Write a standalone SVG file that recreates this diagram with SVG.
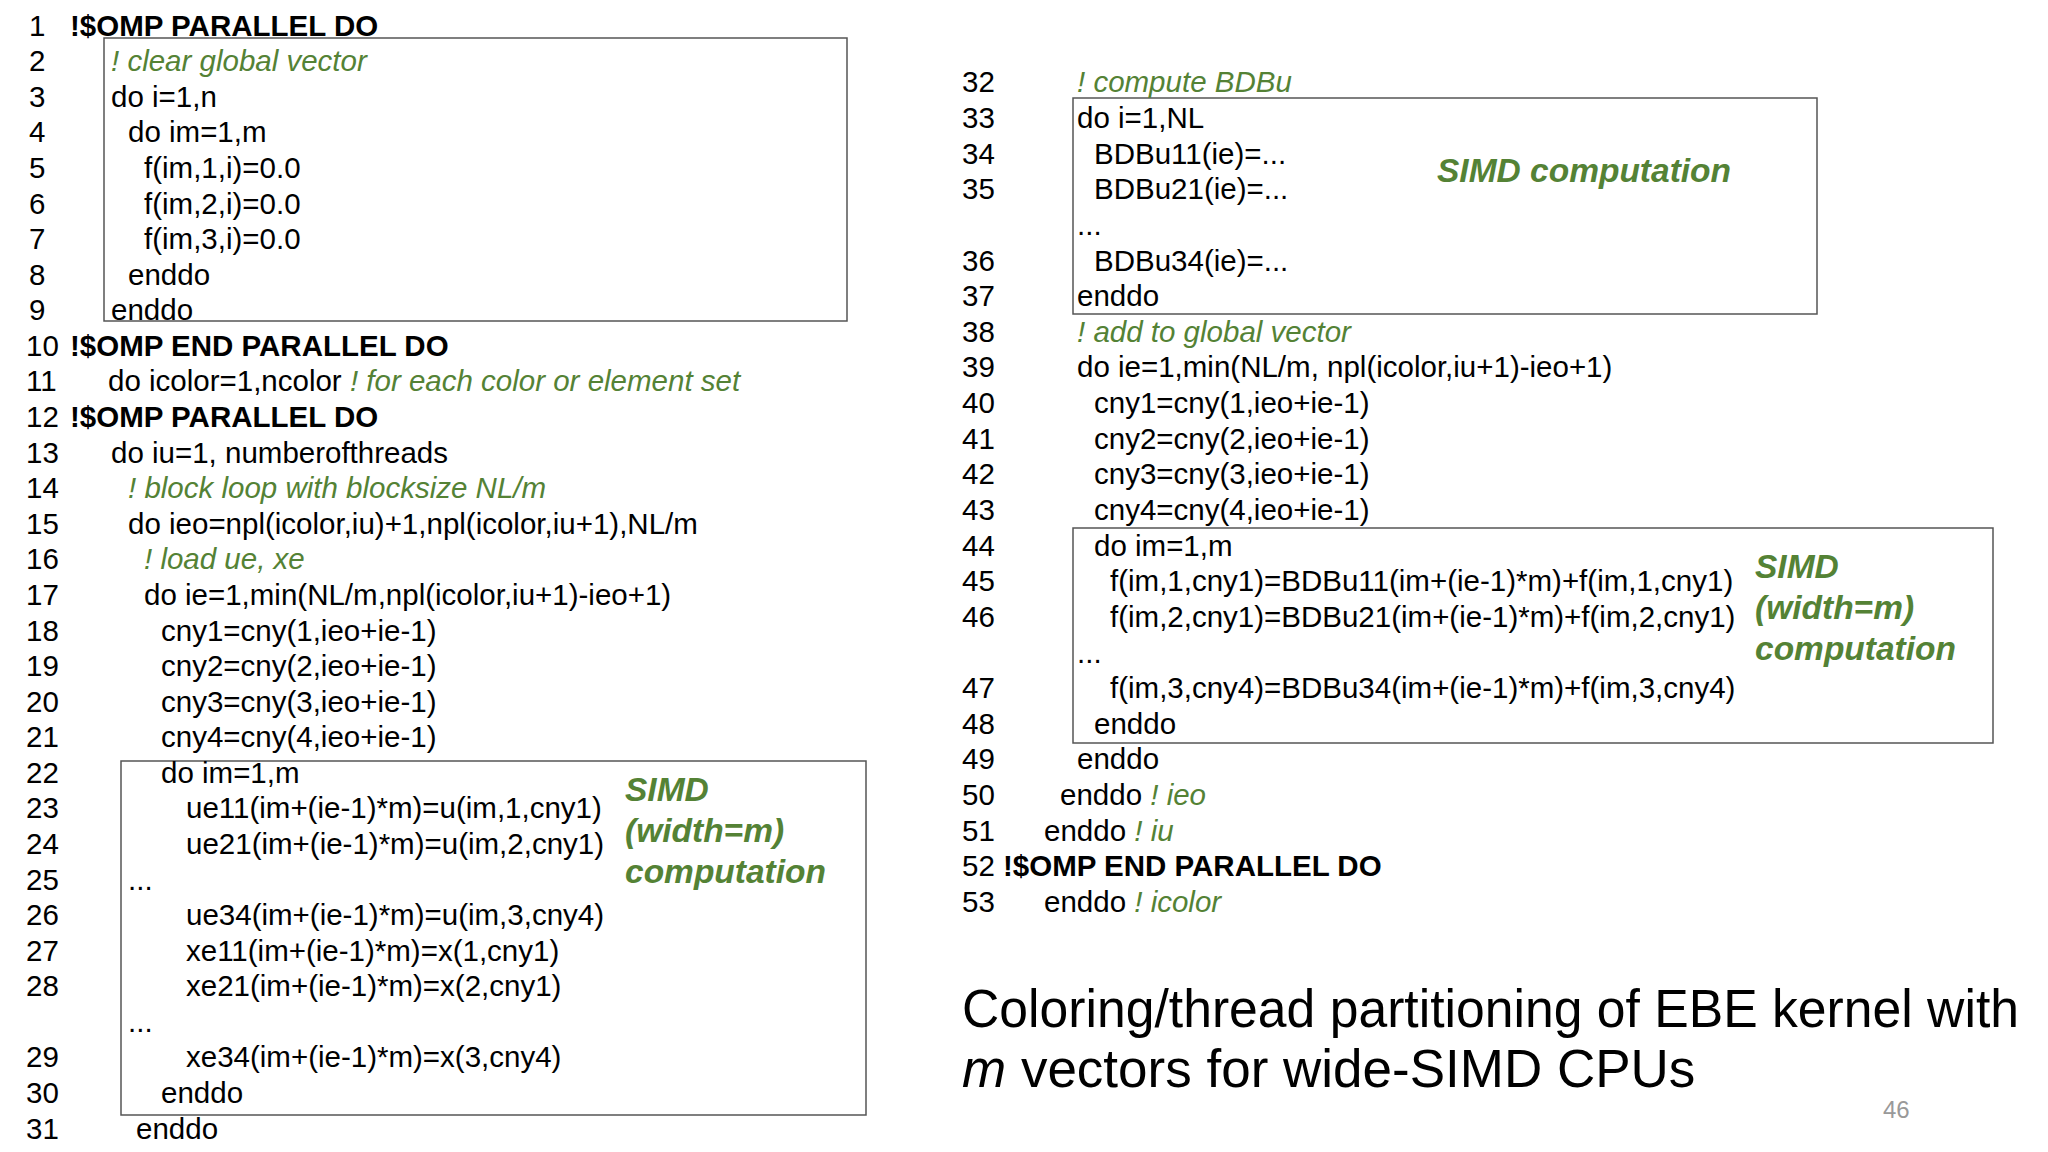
<svg xmlns="http://www.w3.org/2000/svg" width="2048" height="1152" viewBox="0 0 2048 1152">
<style>
text{font-family:"Liberation Sans",Arial,sans-serif;font-size:29.5px;fill:#000}
.b{font-weight:bold}
.c{fill:#548235;font-style:italic}
.s{fill:#548235;font-style:italic;font-weight:bold;font-size:33.5px}
.box{fill:none;stroke:#555;stroke-width:1.5}
.t{font-size:53px}
</style>
<rect width="2048" height="1152" fill="#fff"/>
<g id="boxes">
<rect class="box" x="104" y="38" width="743" height="283"/>
<rect class="box" x="121" y="761" width="745" height="354"/>
<rect class="box" x="1073" y="98" width="744" height="216"/>
<rect class="box" x="1073" y="528" width="920" height="215"/>
</g>
<g id="left-numbers">
<text x="29" y="35.6">1</text><text x="29" y="71.2">2</text><text x="29" y="106.8">3</text><text x="29" y="142.3">4</text><text x="29" y="177.9">5</text><text x="29" y="213.5">6</text><text x="29" y="249.1">7</text><text x="29" y="284.7">8</text><text x="29" y="320.2">9</text>
<text x="26" y="355.8">10</text><text x="26" y="391.4">11</text><text x="26" y="427">12</text><text x="26" y="462.6">13</text><text x="26" y="498.1">14</text><text x="26" y="533.7">15</text><text x="26" y="569.3">16</text><text x="26" y="604.9">17</text><text x="26" y="640.5">18</text><text x="26" y="676">19</text><text x="26" y="711.6">20</text><text x="26" y="747.2">21</text><text x="26" y="782.8">22</text><text x="26" y="818.4">23</text><text x="26" y="853.9">24</text><text x="26" y="889.5">25</text><text x="26" y="925.1">26</text><text x="26" y="960.7">27</text><text x="26" y="996.3">28</text><text x="26" y="1067.4">29</text><text x="26" y="1103">30</text><text x="26" y="1138.6">31</text>
</g>
<g id="left-code">
<text class="b" x="70" y="35.6">!$OMP PARALLEL DO</text>
<text class="c" x="111" y="71.2">! clear global vector</text>
<text x="111" y="106.8">do i=1,n</text>
<text x="128" y="142.3">do im=1,m</text>
<text x="144" y="177.9">f(im,1,i)=0.0</text>
<text x="144" y="213.5">f(im,2,i)=0.0</text>
<text x="144" y="249.1">f(im,3,i)=0.0</text>
<text x="128" y="284.7">enddo</text>
<text x="111" y="320.2">enddo</text>
<text class="b" x="70" y="355.8">!$OMP END PARALLEL DO</text>
<text x="108" y="391.4">do icolor=1,ncolor <tspan class="c">! for each color or element set</tspan></text>
<text class="b" x="70" y="427">!$OMP PARALLEL DO</text>
<text x="111" y="462.6">do iu=1, numberofthreads</text>
<text class="c" x="128" y="498.1">! block loop with blocksize NL/m</text>
<text x="128" y="533.7">do ieo=npl(icolor,iu)+1,npl(icolor,iu+1),NL/m</text>
<text class="c" x="144" y="569.3">! load ue, xe</text>
<text x="144" y="604.9">do ie=1,min(NL/m,npl(icolor,iu+1)-ieo+1)</text>
<text x="161" y="640.5">cny1=cny(1,ieo+ie-1)</text>
<text x="161" y="676">cny2=cny(2,ieo+ie-1)</text>
<text x="161" y="711.6">cny3=cny(3,ieo+ie-1)</text>
<text x="161" y="747.2">cny4=cny(4,ieo+ie-1)</text>
<text x="161" y="782.8">do im=1,m</text>
<text x="186" y="818.4">ue11(im+(ie-1)*m)=u(im,1,cny1)</text>
<text x="186" y="853.9">ue21(im+(ie-1)*m)=u(im,2,cny1)</text>
<text x="128" y="889.5">...</text>
<text x="186" y="925.1">ue34(im+(ie-1)*m)=u(im,3,cny4)</text>
<text x="186" y="960.7">xe11(im+(ie-1)*m)=x(1,cny1)</text>
<text x="186" y="996.3">xe21(im+(ie-1)*m)=x(2,cny1)</text>
<text x="128" y="1031.8">...</text>
<text x="186" y="1067.4">xe34(im+(ie-1)*m)=x(3,cny4)</text>
<text x="161" y="1103">enddo</text>
<text x="136" y="1138.6">enddo</text>
<text class="s" x="625" y="801">SIMD</text>
<text class="s" x="625" y="842">(width=m)</text>
<text class="s" x="625" y="883">computation</text>
</g>
<g id="right-numbers">
<text x="962" y="92.4">32</text><text x="962" y="128">33</text><text x="962" y="163.7">34</text><text x="962" y="199.3">35</text><text x="962" y="270.6">36</text><text x="962" y="306.2">37</text><text x="962" y="341.8">38</text><text x="962" y="377.4">39</text><text x="962" y="413.1">40</text><text x="962" y="448.7">41</text><text x="962" y="484.3">42</text><text x="962" y="520">43</text><text x="962" y="555.6">44</text><text x="962" y="591.2">45</text><text x="962" y="626.9">46</text><text x="962" y="698.1">47</text><text x="962" y="733.7">48</text><text x="962" y="769.4">49</text><text x="962" y="805">50</text><text x="962" y="840.6">51</text><text x="962" y="876.3">52</text><text x="962" y="911.9">53</text>
</g>
<g id="right-code">
<text class="c" x="1077" y="92.4">! compute BDBu</text>
<text x="1077" y="128">do i=1,NL</text>
<text x="1094" y="163.7">BDBu11(ie)=...</text>
<text x="1094" y="199.3">BDBu21(ie)=...</text>
<text x="1077" y="234.9">...</text>
<text x="1094" y="270.6">BDBu34(ie)=...</text>
<text x="1077" y="306.2">enddo</text>
<text class="c" x="1077" y="341.8">! add to global vector</text>
<text x="1077" y="377.4">do ie=1,min(NL/m, npl(icolor,iu+1)-ieo+1)</text>
<text x="1094" y="413.1">cny1=cny(1,ieo+ie-1)</text>
<text x="1094" y="448.7">cny2=cny(2,ieo+ie-1)</text>
<text x="1094" y="484.3">cny3=cny(3,ieo+ie-1)</text>
<text x="1094" y="520">cny4=cny(4,ieo+ie-1)</text>
<text x="1094" y="555.6">do im=1,m</text>
<text x="1110" y="591.2">f(im,1,cny1)=BDBu11(im+(ie-1)*m)+f(im,1,cny1)</text>
<text x="1110" y="626.9">f(im,2,cny1)=BDBu21(im+(ie-1)*m)+f(im,2,cny1)</text>
<text x="1077" y="662.5">...</text>
<text x="1110" y="698.1">f(im,3,cny4)=BDBu34(im+(ie-1)*m)+f(im,3,cny4)</text>
<text x="1094" y="733.7">enddo</text>
<text x="1077" y="769.4">enddo</text>
<text x="1060" y="805">enddo <tspan class="c">! ieo</tspan></text>
<text x="1044" y="840.6">enddo <tspan class="c">! iu</tspan></text>
<text class="b" x="1003" y="876.3">!$OMP END PARALLEL DO</text>
<text x="1044" y="911.9">enddo <tspan class="c">! icolor</tspan></text>
<text class="s" x="1437" y="182">SIMD computation</text>
<text class="s" x="1755" y="578">SIMD</text>
<text class="s" x="1755" y="619">(width=m)</text>
<text class="s" x="1755" y="660">computation</text>
</g>
<g id="title">
<text class="t" x="962" y="1027" textLength="1057" lengthAdjust="spacingAndGlyphs">Coloring/thread partitioning of EBE kernel with</text>
<text class="t" x="962" y="1087"><tspan font-style="italic">m</tspan> vectors for wide-SIMD CPUs</text>
<text x="1883" y="1118" style="font-size:24px;fill:#999">46</text>
</g>
</svg>
